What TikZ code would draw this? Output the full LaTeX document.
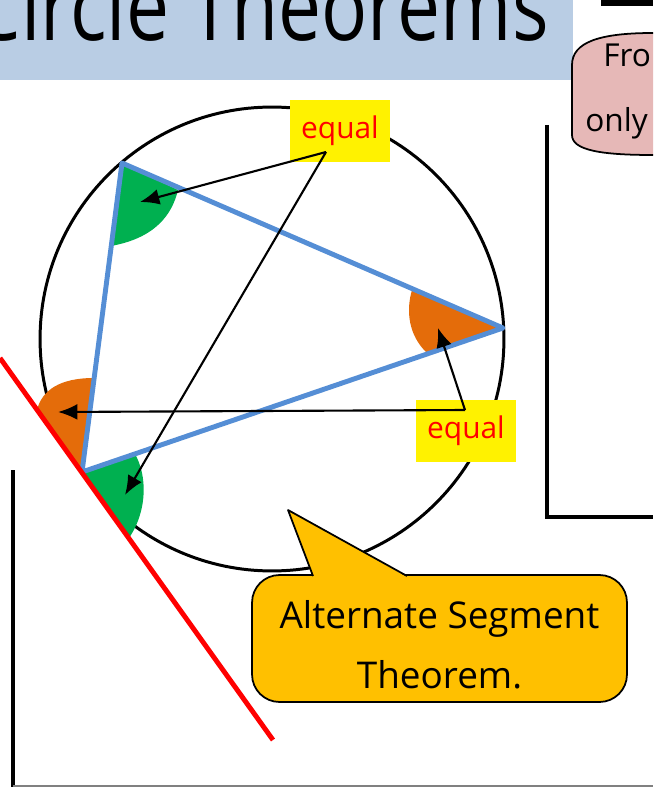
\documentclass[tikz,border=0pt]{standalone}
\usepackage{fontspec}
\setmainfont{Open Sans}
\usetikzlibrary{arrows.meta,positioning}
\definecolor{headbar}{RGB}{185,205,228}
\definecolor{chordC}{RGB}{85,142,213}
\definecolor{angleG}{RGB}{0,176,80}
\definecolor{angleO}{RGB}{228,108,10}
\definecolor{calloutC}{RGB}{255,192,0}
\definecolor{noteC}{RGB}{230,184,183}

\begin{document}
\begin{tikzpicture}[x=0.02cm,y=-0.02cm,
  eqlabel/.style={fill=yellow,text=red,minimum width=2cm,minimum height=1.24cm,inner sep=0pt,font=\fontsize{17}{20}\selectfont},
  pointer/.style={-{Latex[length=11pt,width=9pt]},line width=1.2pt}]
\useasboundingbox (0,0) rectangle (653,787);
\clip (0,0) rectangle (653,787);

% Header bar
\fill[headbar] (0,0) rectangle (573,80);
\node[anchor=base east,inner sep=0pt,font=\fontsize{45}{50}\selectfont] (title) at (549,41) {\scalebox{0.97}[1.2]{Circle Theorems}};
\fill (601,0) rectangle (653,6);

% Note box (top right)
\draw[fill=noteC,line width=1pt] (653,33) .. controls (600,33) and (572,42) .. (572,65) -- (572,135) .. controls (572,150) and (600,155) .. (653,155);
\node[anchor=base west,inner sep=0pt,font=\fontsize{18}{21}\selectfont] (notea) at (603,67) {Fro};
\node[anchor=base west,inner sep=0pt,font=\fontsize{18}{21}\selectfont] (noteb) at (585,132) {only};

% Frame lines
\draw[line width=2.8pt] (547,125) -- (547,517) -- (653,517);
\draw[line width=2.8pt] (13,470) -- (13,787);
\draw[gray,line width=0.6pt] (13,786) -- (653,786);

% Circle and points
\draw[line width=1.7pt] (272,339) circle [radius=4.64cm];
\coordinate (A) at (122,163);
\coordinate (B) at (503,328);
\coordinate (C) at (82,472);
\coordinate (T1) at (0,358);
\coordinate (T2) at (273,740);

% Angles
\fill[angleG] (A) -- (178,190) .. controls (172,215) and (155,238) .. (111,246) -- cycle;
\fill[angleO] (B) -- (412,290) .. controls (406,310) and (408,335) .. (427,353) -- cycle;
\fill[angleO] (C) -- (37,410) .. controls (42,390) and (60,378) .. (94,378) -- cycle;
\fill[angleG] (C) -- (135,454) .. controls (147,475) and (148,510) .. (129,538) -- cycle;

% Triangle and tangent
\draw[chordC,line width=2.8pt,line join=round] (A) -- (B) -- (C) -- cycle;
\draw[red,line width=2.8pt] (T1) -- (T2);

% Labels
\node[eqlabel] (eqtop) at (340,131) {equal};
\node[eqlabel] (eqbot) at (466,431) {equal};
\coordinate (topsrc) at (326,152);
\coordinate (botsrc) at (465,410);
\coordinate (tipA) at (140,202);
\coordinate (tipCg) at (125,495);
\coordinate (tipB) at (438,328);
\coordinate (tipCo) at (58,412);

% Arrows
\draw[pointer] (topsrc) -- (tipA);
\draw[pointer] (topsrc) -- (tipCg);
\draw[pointer] (botsrc) -- (tipB);
\draw[pointer] (botsrc) -- (tipCo);

% Callout
\node[draw,fill=calloutC,rounded corners=0.55cm,line width=1pt,minimum width=7.5cm,minimum height=2.54cm] (callout) at (439.5,638.5) {};
\fill[calloutC] (313,577) -- (288,510) -- (407,577) -- cycle;
\draw[line width=1pt,line join=round] (313,576) -- (288,510) -- (407,576);
\node[align=center,inner sep=0pt,font=\fontsize{21}{34}\selectfont] (calltext) at ([yshift=-0.13cm]callout.center) {Alternate Segment\\Theorem.};
\end{tikzpicture}
\end{document}
